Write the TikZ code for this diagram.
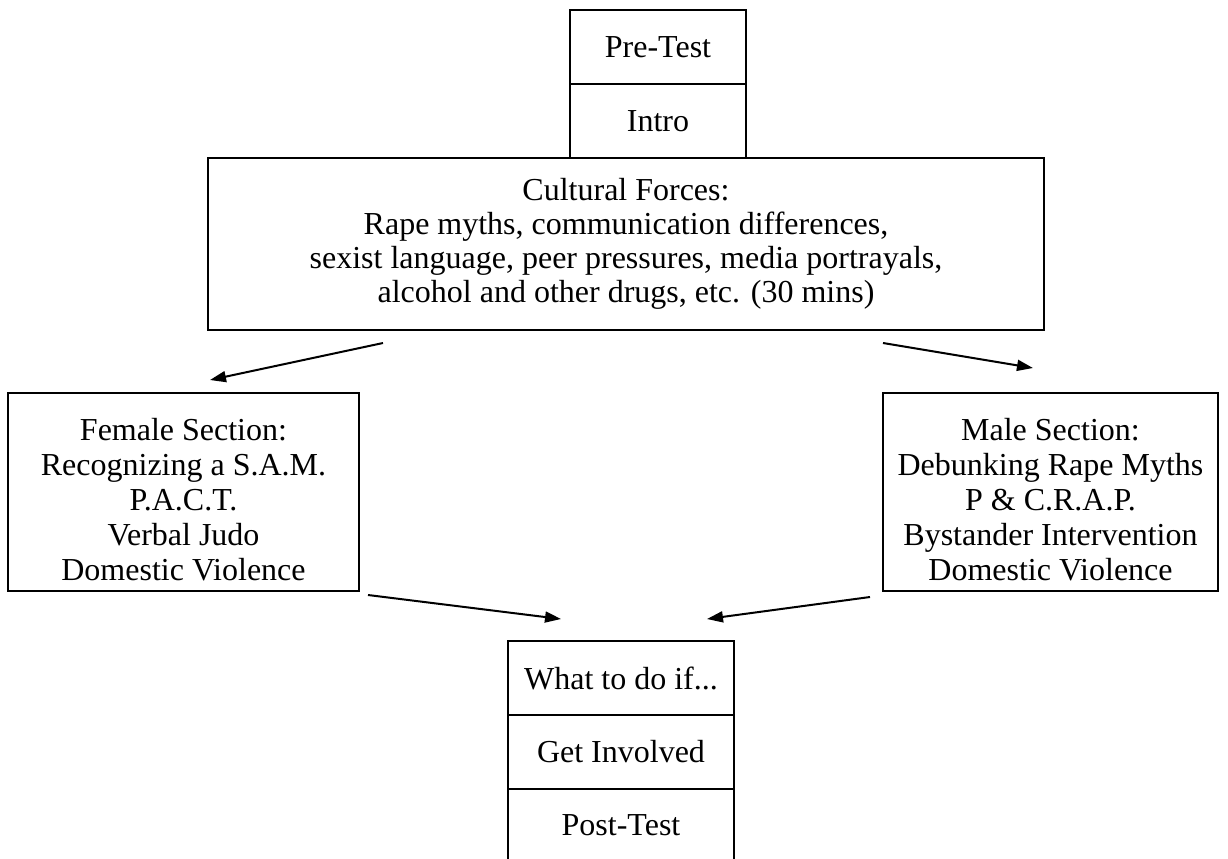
\documentclass[tikz,border=0pt]{standalone}
\usepackage{fontspec}
\setmainfont{Liberation Serif}
\usetikzlibrary{arrows.meta}

\begin{document}
\begin{tikzpicture}[x=0.5pt, y=-0.5pt,
    every node/.style={font=\fontsize{16}{17}\selectfont, align=center, inner sep=0pt},
    stepbox/.style={draw, line width=1.1pt, minimum width=#1},
    flow/.style={-{Triangle[length=8pt, width=5.5pt]}, line width=1pt}]
    \clip (0,0) rectangle (1228,858);

    % Blocos de cima
    \node[stepbox=88pt, minimum height=37pt] (pre) at (658,47) {Pre-Test};
    \node[stepbox=88pt, minimum height=37pt] (intro) at (658,121) {Intro};
    \node[stepbox=418pt, minimum height=86pt] (cult) at (626,244) {Cultural Forces:\\
        Rape myths, communication differences,\\
        sexist language, peer pressures, media portrayals,\\
        alcohol and other drugs, etc. (30 mins)};

    % Seções separadas
    \node[stepbox=175.5pt, minimum height=99pt] (female) at (183.5,492) {};
    \node[stepbox=167.5pt, minimum height=99pt] (male) at (1050.5,492) {};
    \node[font=\fontsize{16}{17.5}\selectfont] (ftext) at (183.5,500) {Female Section:\\
        Recognizing a S.A.M.\\ P.A.C.T.\\ Verbal Judo\\ Domestic Violence};
    \node[font=\fontsize{16}{17.5}\selectfont] (mtext) at (1050.5,500) {Male Section:\\
        Debunking Rape Myths\\ P \& C.R.A.P.\\ Bystander Intervention\\ Domestic Violence};

    % Blocos de baixo
    \node[stepbox=113pt, minimum height=37pt] (whatif) at (621,678) {What to do if...};
    \node[stepbox=113pt, minimum height=37pt] (involved) at (621,752) {Get Involved};
    \node[stepbox=113pt, minimum height=50pt] (post) at (621,839) {};
    \node at (621,825) {Post-Test};

    % Setas
    \coordinate (c1) at (383,343);  \coordinate (f1) at (210,380);
    \coordinate (c2) at (883,343);  \coordinate (m1) at (1033,368);
    \coordinate (f2) at (368,595);  \coordinate (w1) at (561,619);
    \coordinate (m2) at (870,597);  \coordinate (w2) at (707,619);
    \draw[flow] (c1) -- (f1);
    \draw[flow] (c2) -- (m1);
    \draw[flow] (f2) -- (w1);
    \draw[flow] (m2) -- (w2);
\end{tikzpicture}
\end{document}
